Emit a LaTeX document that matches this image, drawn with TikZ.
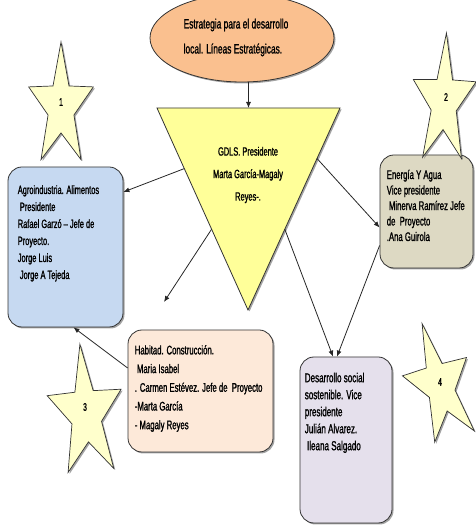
\documentclass[tikz,border=0pt]{standalone}
\usepackage{fontspec}
\setmainfont{Liberation Sans}[FakeStretch=0.62,FakeBold=1.2]
\usepackage{xcolor}
\definecolor{durazno}{RGB}{250,192,143}
\definecolor{limon}{RGB}{255,255,153}
\definecolor{amarillito}{RGB}{255,255,204}
\definecolor{azulagro}{RGB}{198,217,241}
\definecolor{tierra}{RGB}{221,217,195}
\definecolor{rosado}{RGB}{253,233,217}
\definecolor{lila}{RGB}{229,224,236}
\usetikzlibrary{positioning,arrows.meta,shadows,calc,shapes.geometric}

\tikzset{
  sombra/.style={drop shadow={shadow xshift=1.5pt,shadow yshift=-1.5pt,fill=black!60,opacity=.6}},
  caja/.style={draw=black!80, line width=.8pt, rounded corners=14pt, sombra},
  texto/.style={inner sep=0pt, align=left, anchor=north west},
  flecha/.style={-{Latex[length=6pt,width=5pt]}, line width=.8pt, black!85},
  estrella/.style={draw=black!80, fill=amarillito, line width=.7pt, sombra},
  numero/.style={inner sep=0pt, font=\fontsize{11}{12}\selectfont},
}
% cx, cy, giro, rx, ry
\newcommand{\estrella}[5]{%
  \draw[estrella, shift={(#1,#2)}, rotate=#3, xscale=#4, yscale=#5]
    (90:1) -- (126:.4) -- (162:1) -- (198:.4) -- (234:1) -- (270:.4)
    -- (306:1) -- (342:.4) -- (18:1) -- (54:.4) -- cycle;}

\begin{document}
\begin{tikzpicture}[x=1pt,y=1pt]
  \clip (0,0) rectangle (476,527);

  %%% ESTRATEGIA
  \node[ellipse, draw=black!80, line width=.8pt, fill=durazno, sombra, minimum width=184pt, minimum height=88pt] (estr) at (242,489) {};
  \node[align=left, inner sep=0pt, font=\fontsize{13.5}{25}\selectfont] (estrtxt) at (236,489.5)
        {Estrategia para el desarrollo\\local. Líneas Estratégicas.};

  %%% TRIANGULO GDLS
  \coordinate (ti) at (157,419);
  \coordinate (td) at (340,419);
  \coordinate (ta) at (248,217);
  \coordinate (tt) at ($(ti)!.5!(td)$);
  \draw[draw=black!80, line width=.8pt, fill=limon, sombra] (ti) -- (td) -- (ta) -- cycle;
  \node[align=center, inner sep=0pt, font=\fontsize{12}{22.5}\selectfont] (gdls) at (248,352)
        {GDLS. Presidente\\Marta García-Magaly\\Reyes-.};

  %%% CAJAS
  \node[caja, fill=azulagro, minimum width=115pt, minimum height=160pt] (agro) at (65.5,280) {};
  \node[texto, font=\fontsize{12}{17}\selectfont, below right=18.5pt and 10pt of agro.north west] (agrotxt)
        {Agroindustria. Alimentos\\\ Presidente\\Rafael Garzó -- Jefe de\\Proyecto.\\Jorge Luis\\\ Jorge A Tejeda};

  \node[caja, fill=tierra, minimum width=93pt, minimum height=113pt] (ener) at (426.5,315.5) {};
  \node[texto, font=\fontsize{12.5}{15.5}\selectfont, below right=15pt and 7pt of ener.north west] (enertxt)
        {Energía Y Agua\\Vice presidente\\\ Minerva Ramírez Jefe\\de \ Proyecto\\.Ana Guirola};

  \node[caja, fill=rosado, minimum width=145pt, minimum height=122pt] (hab) at (200.5,136) {};
  \node[texto, font=\fontsize{12.5}{18.7}\selectfont, below right=15.4pt and 7pt of hab.north west] (habtxt)
        {Habitad. Construcción.\\\ Maria Isabel\\. Carmen Estévez. Jefe de \ Proyecto\\-Marta García\\- Magaly Reyes};

  \node[caja, fill=lila, minimum width=92pt, minimum height=166pt] (desa) at (346,87) {};
  \node[texto, font=\fontsize{13}{17}\selectfont, below right=16pt and 5pt of desa.north west] (desatxt)
        {Desarrollo social\\sostenible. Vice\\presidente\\Julián Alvarez.\\\ Ileana Salgado};

  %%% FLECHAS
  \coordinate (punta) at (164,225);
  \draw[flecha] (estr.south -| tt) -- (tt);
  \draw[flecha] ($(ti)!.3!(ta)$) -- ([yshift=55pt]agro.east);
  \draw[flecha] ($(td)!.25!(ta)$) -- ([yshift=-16pt]ener.west);
  \draw[flecha] ($(ti)!.6!(ta)$) -- (punta);
  \draw[flecha] ($(td)!.6!(ta)$) -- ([xshift=-13pt]desa.north);
  \draw[flecha] ([yshift=-34pt]ener.west) -- ([xshift=-9pt]desa.north);
  \draw[flecha] ([yshift=23pt]hab.west) -- ([xshift=8pt]agro.south);

  %%% ESTRELLAS
  \estrella{61}{420}{0}{34}{65}
  \node[numero] (n1) at (61,425) {1};
  \estrella{444}{425}{-2}{33}{69}
  \node[numero] (n2) at (446,430) {2};
  \estrella{86}{113}{5}{39}{70}
  \node[numero] (n3) at (85,120) {3};
  \estrella{440}{141}{16}{35}{65}
  \node[numero] (n4) at (440,145) {4};
\end{tikzpicture}
\end{document}
